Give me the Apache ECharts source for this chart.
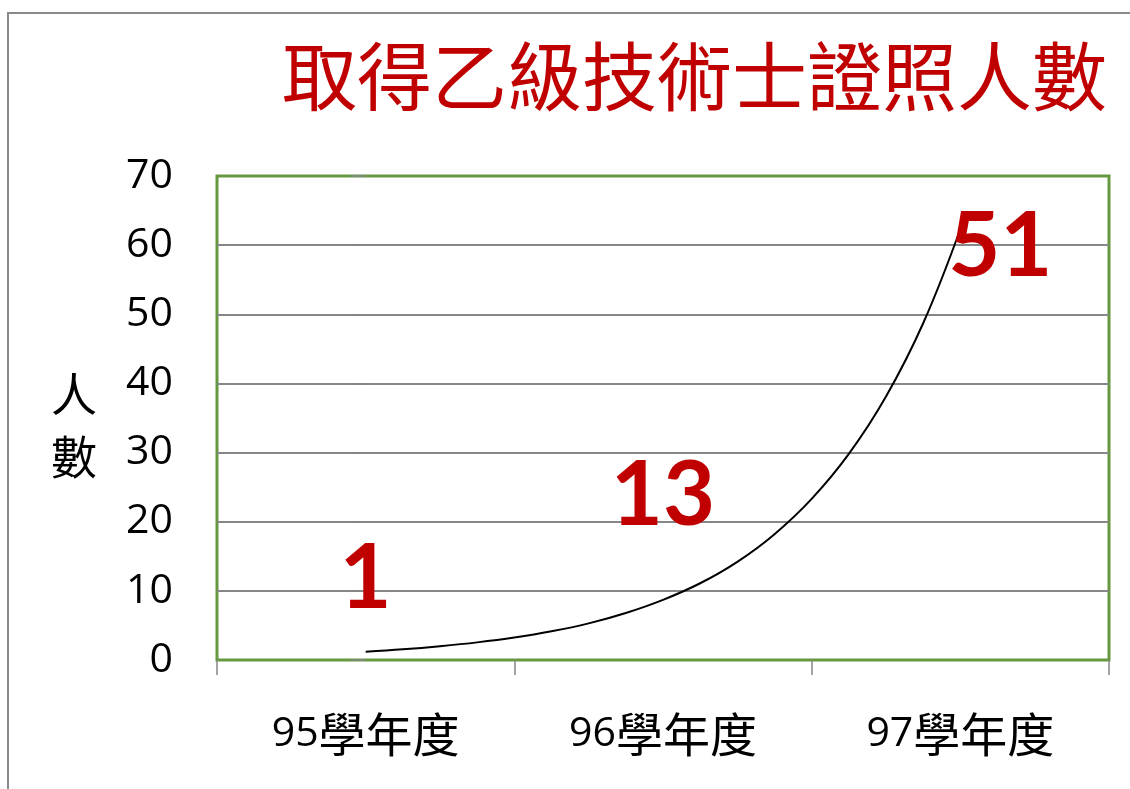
<!DOCTYPE html>
<html>
<head>
<meta charset="utf-8">
<script src="https://cdn.jsdelivr.net/npm/echarts@6/dist/echarts.min.js"></script>
<style>
  html, body { margin: 0; padding: 0; background: #fff; }
  #chart { width: 1130px; height: 789px; }
</style>
</head>
<body>
<div id="chart"></div>
<script>
// 資料
const years = ['95學年度', '96學年度', '97學年度'];
const counts = [1, 13, 51];
const yTicks = [0, 10, 20, 30, 40, 50, 60, 70];
// 趨勢線（從圖上讀取的點，x 為類目位置 0..2）
const trendX = [0, 0.125, 0.25, 0.375, 0.5, 0.625, 0.75, 0.875, 1.0, 1.125, 1.25, 1.375, 1.5, 1.625, 1.75, 1.875, 2.0];
const trendY = [1.2, 1.55, 2.0, 2.55, 3.25, 4.15, 5.3, 6.8, 8.7, 11.1, 14.2, 18.2, 23.3, 29.8, 38.1, 48.7, 62.3];

const RED = '#C00000';
const GRID_GRAY = '#878787';

const chart = echarts.init(document.getElementById('chart'));

chart.setOption({
    animation: false,
    backgroundColor: '#fff',
    title: {
        text: '取得乙級技術士證照人數',
        right: 18,
        top: 34,
        textStyle: {
            fontSize: 75,
            fontWeight: 'normal',
            color: RED,
            fontFamily: '"Noto Sans CJK TC", "Noto Sans CJK SC"'
        }
    },
    graphic: [
        // 外框
        { type: 'rect', shape: { x: 8, y: 13, width: 1300, height: 900 },
          style: { fill: 'none', stroke: '#8a8a8a', lineWidth: 2 }, z: 0 },
        // 縱軸名稱
        { type: 'text', x: 74, y: 425,
          style: { text: '人\n數', fontSize: 46, lineHeight: 63, fill: '#000',
                   align: 'center', verticalAlign: 'middle',
                   fontFamily: '"Noto Sans CJK TC"' } }
    ],
    grid: {
        left: 217, right: 21, top: 176, bottom: 129,
        show: true,
        borderColor: '#66983F',
        borderWidth: 3,
        backgroundColor: 'transparent'
    },
    xAxis: [
        {
            type: 'category',
            data: years,
            boundaryGap: true,
            axisLine: { show: false },
            axisTick: { show: true, length: 15, lineStyle: { color: GRID_GRAY, width: 1.5 } },
            axisLabel: {
                margin: 51,
                formatter: v => '{n|' + v.slice(0, 2) + '}{c|' + v.slice(2) + '}',
                rich: {
                    n: { fontSize: 41, color: '#000', fontFamily: '"Open Sans"' },
                    c: { fontSize: 47, color: '#000', fontFamily: '"Noto Sans CJK TC"' }
                }
            },
            splitLine: { show: false }
        },
        {
            type: 'value',
            min: -0.5,
            max: 2.5,
            show: false
        }
    ],
    yAxis: {
        type: 'value',
        min: yTicks[0],
        max: yTicks[yTicks.length - 1],
        interval: 10,
        axisLine: { show: false },
        axisTick: { show: true, length: 15, lineStyle: { color: GRID_GRAY, width: 1.5 } },
        axisLabel: { margin: 44, fontSize: 41, color: '#000', fontFamily: '"Open Sans"' },
        splitLine: { show: true, showMinLine: false, showMaxLine: false,
                     lineStyle: { color: GRID_GRAY, width: 1.8 } }
    },
    series: [
        {
            // 指數趨勢線
            type: 'line',
            xAxisIndex: 1,
            data: trendX.map((x, i) => [x, trendY[i]]),
            smooth: 0.4,
            symbol: 'none',
            lineStyle: { color: '#000', width: 2 },
            z: 3
        },
        {
            // 數值標籤
            type: 'scatter',
            xAxisIndex: 0,
            data: counts.map((v, i) => i === 2
                ? { value: v, label: { offset: [40, 14] } }
                : v),
            symbolSize: 1,
            itemStyle: { color: 'rgba(0,0,0,0)', opacity: 1 },
            label: {
                show: true,
                position: 'top',
                distance: 74,
                verticalAlign: 'middle',
                color: RED,
                fontSize: 90,
                fontWeight: 'bold',
                fontFamily: 'Lato'
            },
            z: 4
        }
    ]
});
</script>
</body>
</html>
